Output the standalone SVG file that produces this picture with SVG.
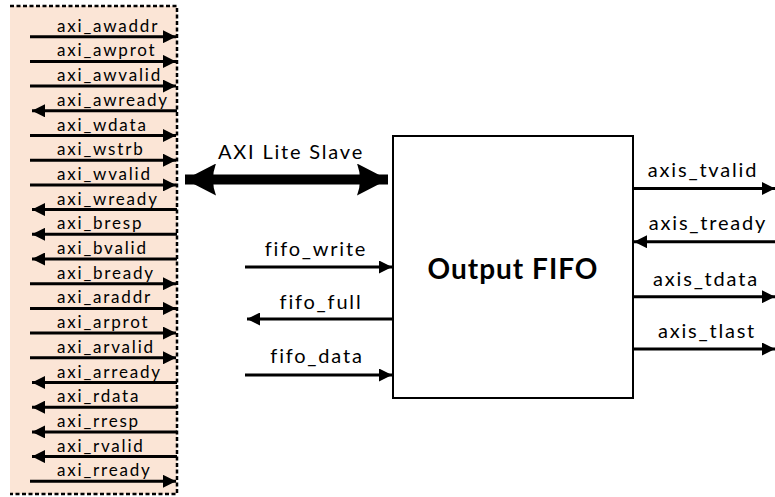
<svg xmlns="http://www.w3.org/2000/svg" width="775" height="497" viewBox="0 0 775 497">
<style>
text{font-family:Lato,"Liberation Sans",sans-serif;fill:#000;font-variant-ligatures:none}
.sig{font-size:17px;letter-spacing:1.8px}
.lbl{font-size:20px;letter-spacing:1.8px}
.ttl{font-size:28px;font-weight:bold;letter-spacing:1px}
.w{stroke:#000;stroke-width:3;fill:none;marker-end:url(#ah)}
</style>
<defs>
<marker id="ah" markerUnits="userSpaceOnUse" markerWidth="13" markerHeight="13" refX="13" refY="6.5" orient="auto"><path d="M0,0 L13,6.5 L0,13 Z" fill="#000"/></marker>
<marker id="big" markerUnits="userSpaceOnUse" markerWidth="32" markerHeight="32" refX="31" refY="16" orient="auto-start-reverse"><path d="M0,0 L31,16 L0,32 Q6,16 0,0 Z" fill="#000"/></marker>
</defs>
<rect width="775" height="497" fill="#fff"/>
<g id="axi_panel">
<rect x="10" y="6" width="167" height="488" fill="#FBE5D6"/>
<path d="M10,6 H177 V494 H10" fill="none" stroke="#000" stroke-width="2.5" stroke-dasharray="4,2.5"/>
<text class="sig" x="57" y="31.7">axi_awaddr</text>
<text class="sig" x="57" y="56.4">axi_awprot</text>
<text class="sig" x="57" y="81.1">axi_awvalid</text>
<text class="sig" x="57" y="105.8">axi_awready</text>
<text class="sig" x="57" y="130.5">axi_wdata</text>
<text class="sig" x="57" y="155.2">axi_wstrb</text>
<text class="sig" x="57" y="179.9">axi_wvalid</text>
<text class="sig" x="57" y="204.6">axi_wready</text>
<text class="sig" x="57" y="229.3">axi_bresp</text>
<text class="sig" x="57" y="254">axi_bvalid</text>
<text class="sig" x="57" y="278.7">axi_bready</text>
<text class="sig" x="57" y="303.4">axi_araddr</text>
<text class="sig" x="57" y="328.1">axi_arprot</text>
<text class="sig" x="57" y="352.8">axi_arvalid</text>
<text class="sig" x="57" y="377.5">axi_arready</text>
<text class="sig" x="57" y="402.2">axi_rdata</text>
<text class="sig" x="57" y="426.9">axi_rresp</text>
<text class="sig" x="57" y="451.6">axi_rvalid</text>
<text class="sig" x="57" y="476.3">axi_rready</text>
</g>
<g id="fifo">
<rect x="393" y="136" width="240" height="262" fill="#fff" stroke="#000" stroke-width="2"/>
<text class="ttl" x="513" y="279" text-anchor="middle">Output FIFO</text>
</g>
<g id="labels">
<text class="lbl" x="291" y="159" text-anchor="middle">AXI Lite Slave</text>
<text class="lbl" x="316" y="256" text-anchor="middle">fifo_write</text>
<text class="lbl" x="321" y="309" text-anchor="middle">fifo_full</text>
<text class="lbl" x="317" y="362.7" text-anchor="middle">fifo_data</text>
<text class="lbl" x="703" y="177" text-anchor="middle">axis_tvalid</text>
<text class="lbl" x="708" y="230" text-anchor="middle">axis_tready</text>
<text class="lbl" x="706" y="285.7" text-anchor="middle">axis_tdata</text>
<text class="lbl" x="707" y="338" text-anchor="middle">axis_tlast</text>
</g>
<g id="connectors">
<line class="w" x1="30" y1="36.7" x2="176" y2="36.7"/>
<line class="w" x1="30" y1="61.4" x2="176" y2="61.4"/>
<line class="w" x1="30" y1="86.1" x2="176" y2="86.1"/>
<line class="w" x1="177" y1="110.8" x2="32" y2="110.8"/>
<line class="w" x1="30" y1="135.5" x2="176" y2="135.5"/>
<line class="w" x1="30" y1="160.2" x2="176" y2="160.2"/>
<line class="w" x1="30" y1="184.9" x2="176" y2="184.9"/>
<line class="w" x1="177" y1="209.6" x2="32" y2="209.6"/>
<line class="w" x1="177" y1="234.3" x2="32" y2="234.3"/>
<line class="w" x1="177" y1="259" x2="32" y2="259"/>
<line class="w" x1="30" y1="283.7" x2="176" y2="283.7"/>
<line class="w" x1="30" y1="308.4" x2="176" y2="308.4"/>
<line class="w" x1="30" y1="333.1" x2="176" y2="333.1"/>
<line class="w" x1="30" y1="357.8" x2="176" y2="357.8"/>
<line class="w" x1="177" y1="382.5" x2="32" y2="382.5"/>
<line class="w" x1="177" y1="407.2" x2="32" y2="407.2"/>
<line class="w" x1="177" y1="431.9" x2="32" y2="431.9"/>
<line class="w" x1="177" y1="456.6" x2="32" y2="456.6"/>
<line class="w" x1="30" y1="481.3" x2="176" y2="481.3"/>
<line x1="185" y1="179.5" x2="388" y2="179.5" stroke="#000" stroke-width="10" marker-start="url(#big)" marker-end="url(#big)"/>
<line class="w" x1="245" y1="267" x2="392" y2="267"/>
<line class="w" x1="392" y1="319" x2="247" y2="319"/>
<line class="w" x1="245" y1="375" x2="392" y2="375"/>
<line class="w" x1="634" y1="188.5" x2="775" y2="188.5"/>
<line class="w" x1="775" y1="241.7" x2="634" y2="241.7"/>
<line class="w" x1="634" y1="296.7" x2="775" y2="296.7"/>
<line class="w" x1="634" y1="349" x2="775" y2="349"/>
</g>
</svg>
